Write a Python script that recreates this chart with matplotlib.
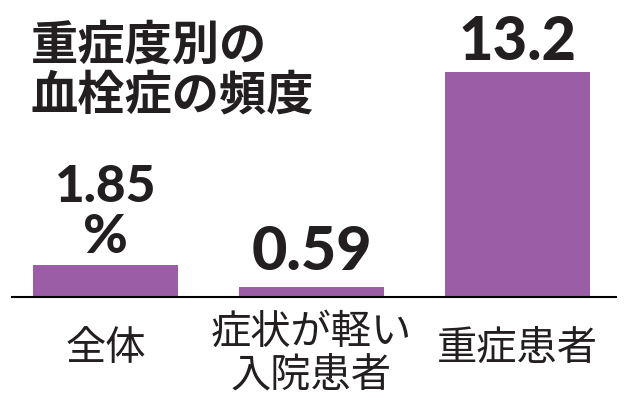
import matplotlib
matplotlib.use("Agg")
import matplotlib.pyplot as plt

# Données
categories = [["全体"], ["症状が軽い", "入院患者"], ["重症患者"]]
valeurs = [1.85, 0.59, 13.2]
etiquettes = ["1.85", "0.59", "13.2"]
titre = ["重症度別の", "血栓症の頻度"]

couleur_barre = "#9b5ea6"
couleur_texte = "#231f20"
police_chiffres = "Lato"

W, H = 629, 404
fig = plt.figure(figsize=(W / 100, H / 100), dpi=100)
ax = fig.add_axes([0, 0, 1, 1])

# échelle : 1 unité x = 206 px, base à y=297 px, 13.2 -> 225 px
px_x = 206.0
px_y = 225.0 / 13.2
x0 = 105.5
base = 297.0
ax.set_xlim(-x0 / px_x, (W - x0) / px_x)
ax.set_ylim(-(H - base) / px_y, base / px_y)
ax.axis("off")

xs = list(range(len(valeurs)))
ax.bar(xs, valeurs, width=145 / px_x, color=couleur_barre, zorder=2)
ax.axhline(0, xmin=12 / W, xmax=616 / W, color="black", lw=1.5, zorder=3)

pt = 0.72  # px -> points

# Étiquettes de valeur
for x, v, lab in zip(xs, valeurs, etiquettes):
    if lab == "1.85":
        ax.annotate(lab, (x, v), xytext=(0, 63 * pt), textcoords="offset points",
                    ha="center", va="baseline", fontsize=37, fontweight=900,
                    family=police_chiffres, color=couleur_texte)
        ax.annotate("%", (x, v), xytext=(0, 12 * pt), textcoords="offset points",
                    ha="center", va="baseline", fontsize=39, fontweight=900,
                    family=police_chiffres, color=couleur_texte)
    else:
        decal = 17 if v < 1 else 12
        taille = 44 if v < 1 else 43
        ax.annotate(lab, (x, v), xytext=(0, decal * pt), textcoords="offset points",
                    ha="center", va="baseline", fontsize=taille, fontweight=900,
                    family=police_chiffres, color=couleur_texte)

# Catégories sous l'axe
for x, lignes in zip(xs, categories):
    k = len(lignes)
    for i, l in enumerate(lignes):
        dy = 63 - 16 * (k - 1) + 43 * i
        ax.annotate(l, (x, 0), xytext=(0, -dy * pt), textcoords="offset points",
                    ha="center", va="baseline", fontsize=29,
                    family=["Noto Sans CJK JP", "DejaVu Sans"], color=couleur_texte)

# Titre
for i, l in enumerate(titre):
    fig.text(31 / W, 1 - (60 + 49 * i) / H, l, ha="left", va="baseline",
             fontsize=34, fontweight="bold",
             family=["Noto Sans CJK JP", "DejaVu Sans"], color=couleur_texte)

fig.savefig("out.png", dpi=100, facecolor="white")
